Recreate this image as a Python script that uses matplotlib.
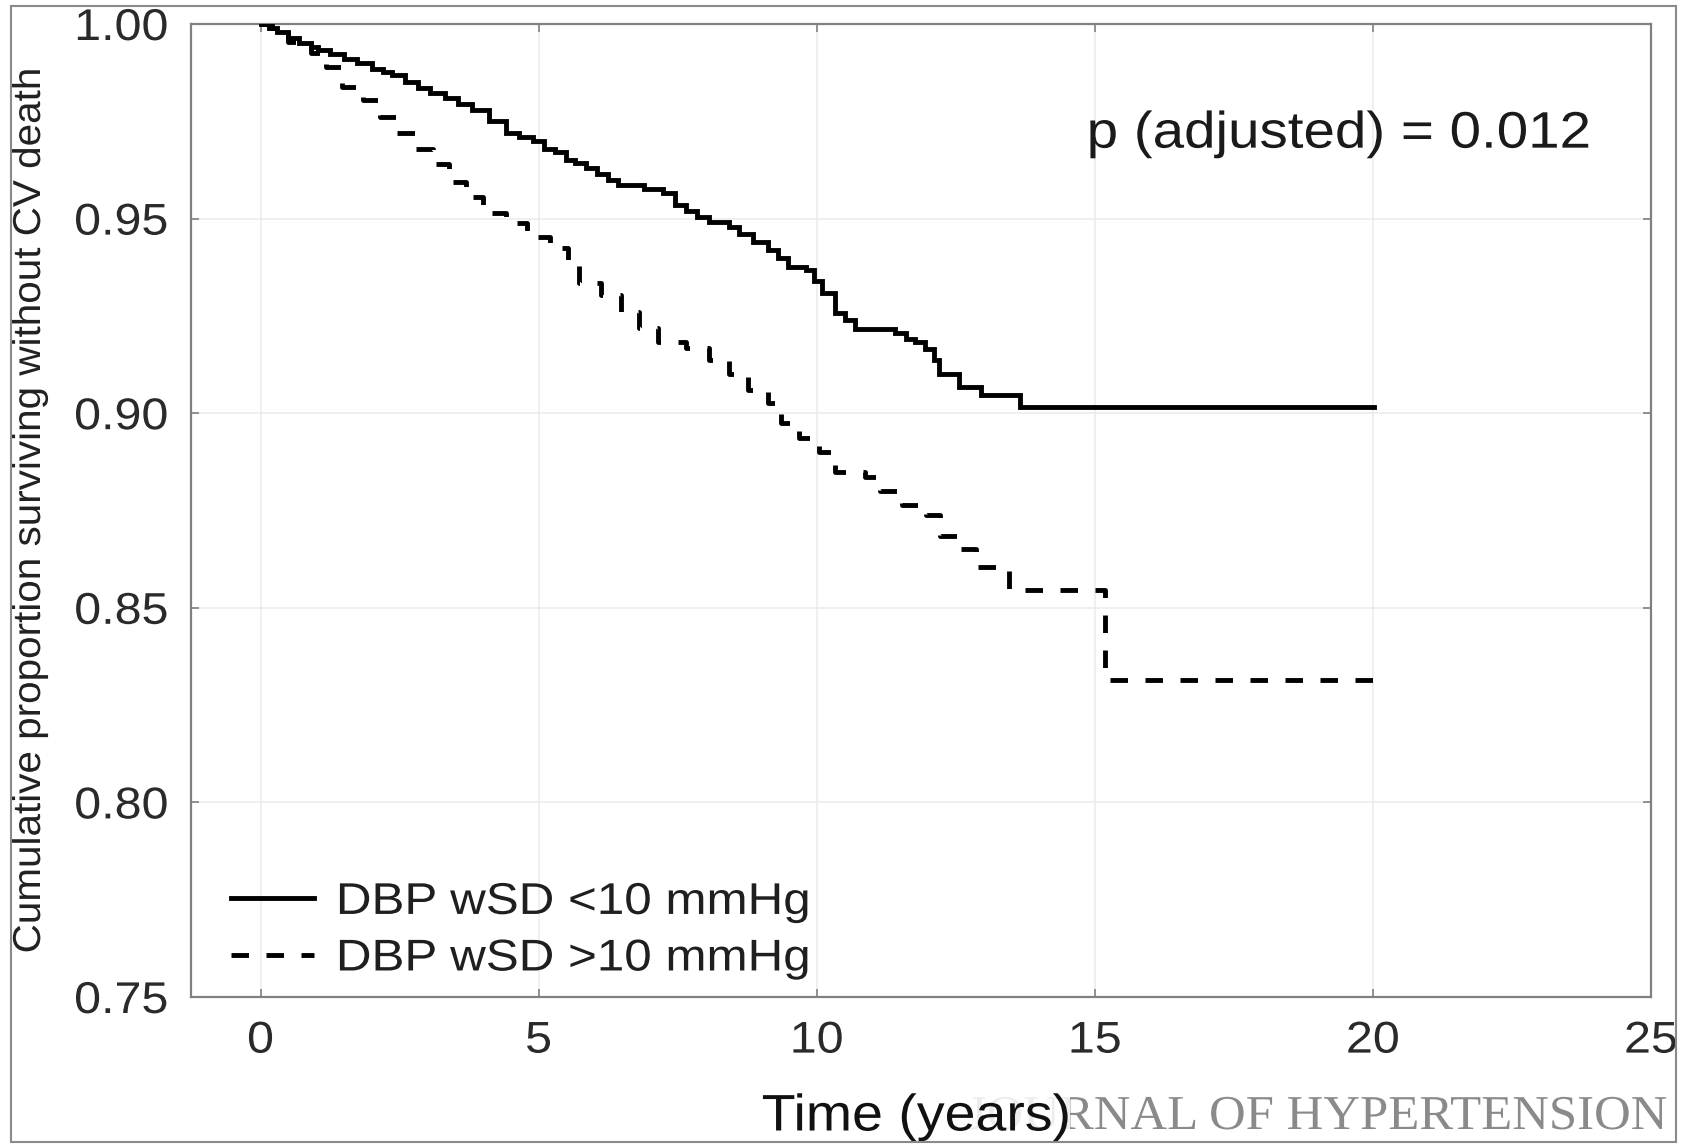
import matplotlib
matplotlib.use("Agg")
import matplotlib.pyplot as plt
from matplotlib.patches import Rectangle
from matplotlib.patheffects import AbstractPathEffect
from matplotlib.transforms import Affine2D

# Kaplan-Meier estimates: time (years) and cumulative survival without CV death
t_low = [0.00, 0.15, 0.30, 0.49, 0.70, 0.90, 1.04, 1.25, 1.50, 1.73, 2.00, 2.20,
         2.36, 2.60, 2.84, 3.05, 3.32, 3.55, 3.80, 4.10, 4.42, 4.65, 4.90, 5.10,
         5.30, 5.50, 5.65, 5.85, 6.05, 6.25, 6.42, 6.90, 7.24, 7.45, 7.65, 7.85,
         8.07, 8.42, 8.60, 8.85, 9.13, 9.30, 9.49, 9.81, 9.95, 10.10, 10.33, 10.50,
         10.69, 11.40, 11.60, 11.77, 11.95, 12.10, 12.19, 12.55, 12.96, 13.65, 20.02]
s_low = [1.0000, 0.9990, 0.9980, 0.9964, 0.9950, 0.9940, 0.9933, 0.9923, 0.9910, 0.9900, 0.9885, 0.9877,
         0.9869, 0.9850, 0.9835, 0.9822, 0.9810, 0.9795, 0.9779, 0.9750, 0.9720, 0.9710, 0.9700, 0.9680,
         0.9670, 0.9650, 0.9643, 0.9630, 0.9615, 0.9600, 0.9586, 0.9575, 0.9566, 0.9535, 0.9520, 0.9505,
         0.9491, 0.9478, 0.9460, 0.9440, 0.9419, 0.9400, 0.9376, 0.9368, 0.9340, 0.9310, 0.9257, 0.9240,
         0.9216, 0.9205, 0.9190, 0.9183, 0.9165, 0.9137, 0.9100, 0.9067, 0.9047, 0.9016, 0.9016]

t_high = [0.00, 0.20, 0.49, 0.90, 1.18, 1.46, 1.84, 2.14, 2.43, 2.77, 3.11, 3.39,
          3.69, 4.00, 4.42, 4.80, 5.21, 5.53, 5.73, 6.13, 6.48, 6.80, 7.15, 7.65,
          8.07, 8.42, 8.77, 9.13, 9.36, 9.69, 10.05, 10.33, 10.86, 11.14, 11.54, 11.97,
          12.22, 12.55, 12.87, 13.46, 15.19, 20.25]
s_high = [1.0000, 0.9980, 0.9954, 0.9925, 0.9890, 0.9838, 0.9805, 0.9760, 0.9720, 0.9680, 0.9640, 0.9594,
          0.9556, 0.9514, 0.9488, 0.9453, 0.9424, 0.9386, 0.9334, 0.9304, 0.9260, 0.9219, 0.9183, 0.9167,
          0.9137, 0.9100, 0.9060, 0.9026, 0.8975, 0.8936, 0.8900, 0.8850, 0.8836, 0.8800, 0.8764, 0.8738,
          0.8685, 0.8650, 0.8605, 0.8546, 0.8314, 0.8314]

label_low = "DBP wSD <10 mmHg"
label_high = "DBP wSD >10 mmHg"
x_ticks = [0, 5, 10, 15, 20, 25]
y_ticks = [0.75, 0.80, 0.85, 0.90, 0.95, 1.00]
p_text = "p (adjusted) = 0.012"


class Widen(AbstractPathEffect):
    """Stretch a text glyph path along its baseline, about its own centre."""

    def __init__(self, sx):
        super().__init__()
        self.sx = sx

    def draw_path(self, renderer, gc, tpath, affine, rgbFace=None):
        ext = tpath.get_extents()
        cx = 0.5 * (ext.x0 + ext.x1)
        pre = Affine2D().translate(-cx, 0).scale(self.sx, 1.0).translate(cx, 0)
        renderer.draw_path(gc, tpath, pre + affine, rgbFace)


W, H = 1684, 1145
sans = ["Liberation Sans", "DejaVu Sans"]
serif = ["Liberation Serif", "DejaVu Serif"]

fig = plt.figure(figsize=(W / 100, H / 100), dpi=100)
ax = fig.add_axes([191 / W, 1 - 997 / H, 1460 / W, 973 / H])

ax.plot(t_low, s_low, drawstyle="steps-post", color="black", lw=3.5,
        solid_joinstyle="miter", label=label_low, zorder=3)
ax.plot(t_high, s_high, drawstyle="steps-post", color="black", lw=3.5,
        linestyle=(0, (3.6, 3.6)), dash_capstyle="butt", label=label_high, zorder=3)

ax.set_xlim(-1.25, 25)
ax.set_ylim(0.75, 1.00)
ax.set_xticks(x_ticks)
ax.set_yticks(y_ticks)
ax.set_xticklabels([str(v) for v in x_ticks])
ax.set_yticklabels([f"{v:.2f}" for v in y_ticks])
ax.grid(True, color="#ececec", lw=1.2, zorder=0)

for sp in ax.spines.values():
    sp.set_color("#808080")
    sp.set_linewidth(1.6)

ax.tick_params(axis="both", direction="in", length=6, width=1.2, color="#808080",
               top=True, right=True, labelcolor="#2a2a2a", labelsize=32)
ax.tick_params(axis="x", pad=17)
ax.tick_params(axis="y", pad=19)
for lab in ax.get_xticklabels() + ax.get_yticklabels():
    lab.set_family(sans)
    lab.set_path_effects([Widen(1.09)])

ax.text(23.51, 0.9717, p_text, ha="right", va="center", fontsize=37,
        family=sans, color="#1a1a1a", path_effects=[Widen(1.10)])

leg = ax.legend(loc="lower left", bbox_to_anchor=(0.0274, 0.018), frameon=False,
                prop={"family": sans, "size": 32}, handlelength=1.87,
                handletextpad=1.02, labelspacing=0.35, borderpad=0, borderaxespad=0)
for txt in leg.get_texts():
    txt.set_color("#1f1f1f")
    txt.set_path_effects([Widen(1.11)])

fig.text(30 / W, 0.5 * ((1 - 24 / H) + (1 - 997 / H)),
         "Cumulative proportion surviving without CV death",
         rotation=90, ha="center", va="center", fontsize=28, family=sans,
         color="#222222", path_effects=[Widen(1.04)])

fig.text(1653 / W, 1 - 1117 / H, "JOURNAL OF HYPERTENSION", ha="right", va="center",
         fontsize=35, family=serif, color="#8a8a8a", path_effects=[Widen(1.045)])
# white veil that lets the axis title sit over the imprint
fig.add_artist(Rectangle((752 / W, 1 - 1141 / H), 318 / W, 52 / H,
                         transform=fig.transFigure, fc="white", ec="none",
                         alpha=0.85, zorder=3.5))
fig.text(916 / W, 1 - 1117 / H, "Time (years)", ha="center", va="center",
         fontsize=37, family=sans, color="#111111", zorder=4,
         path_effects=[Widen(1.08)])

fig.add_artist(Rectangle((11 / W, 1 - 1142 / H), (1676 - 11) / W, (1142 - 6) / H,
                         transform=fig.transFigure, fill=False, ec="#8a8a8a",
                         lw=1.5, zorder=10))

fig.savefig("out.png", dpi=100)
